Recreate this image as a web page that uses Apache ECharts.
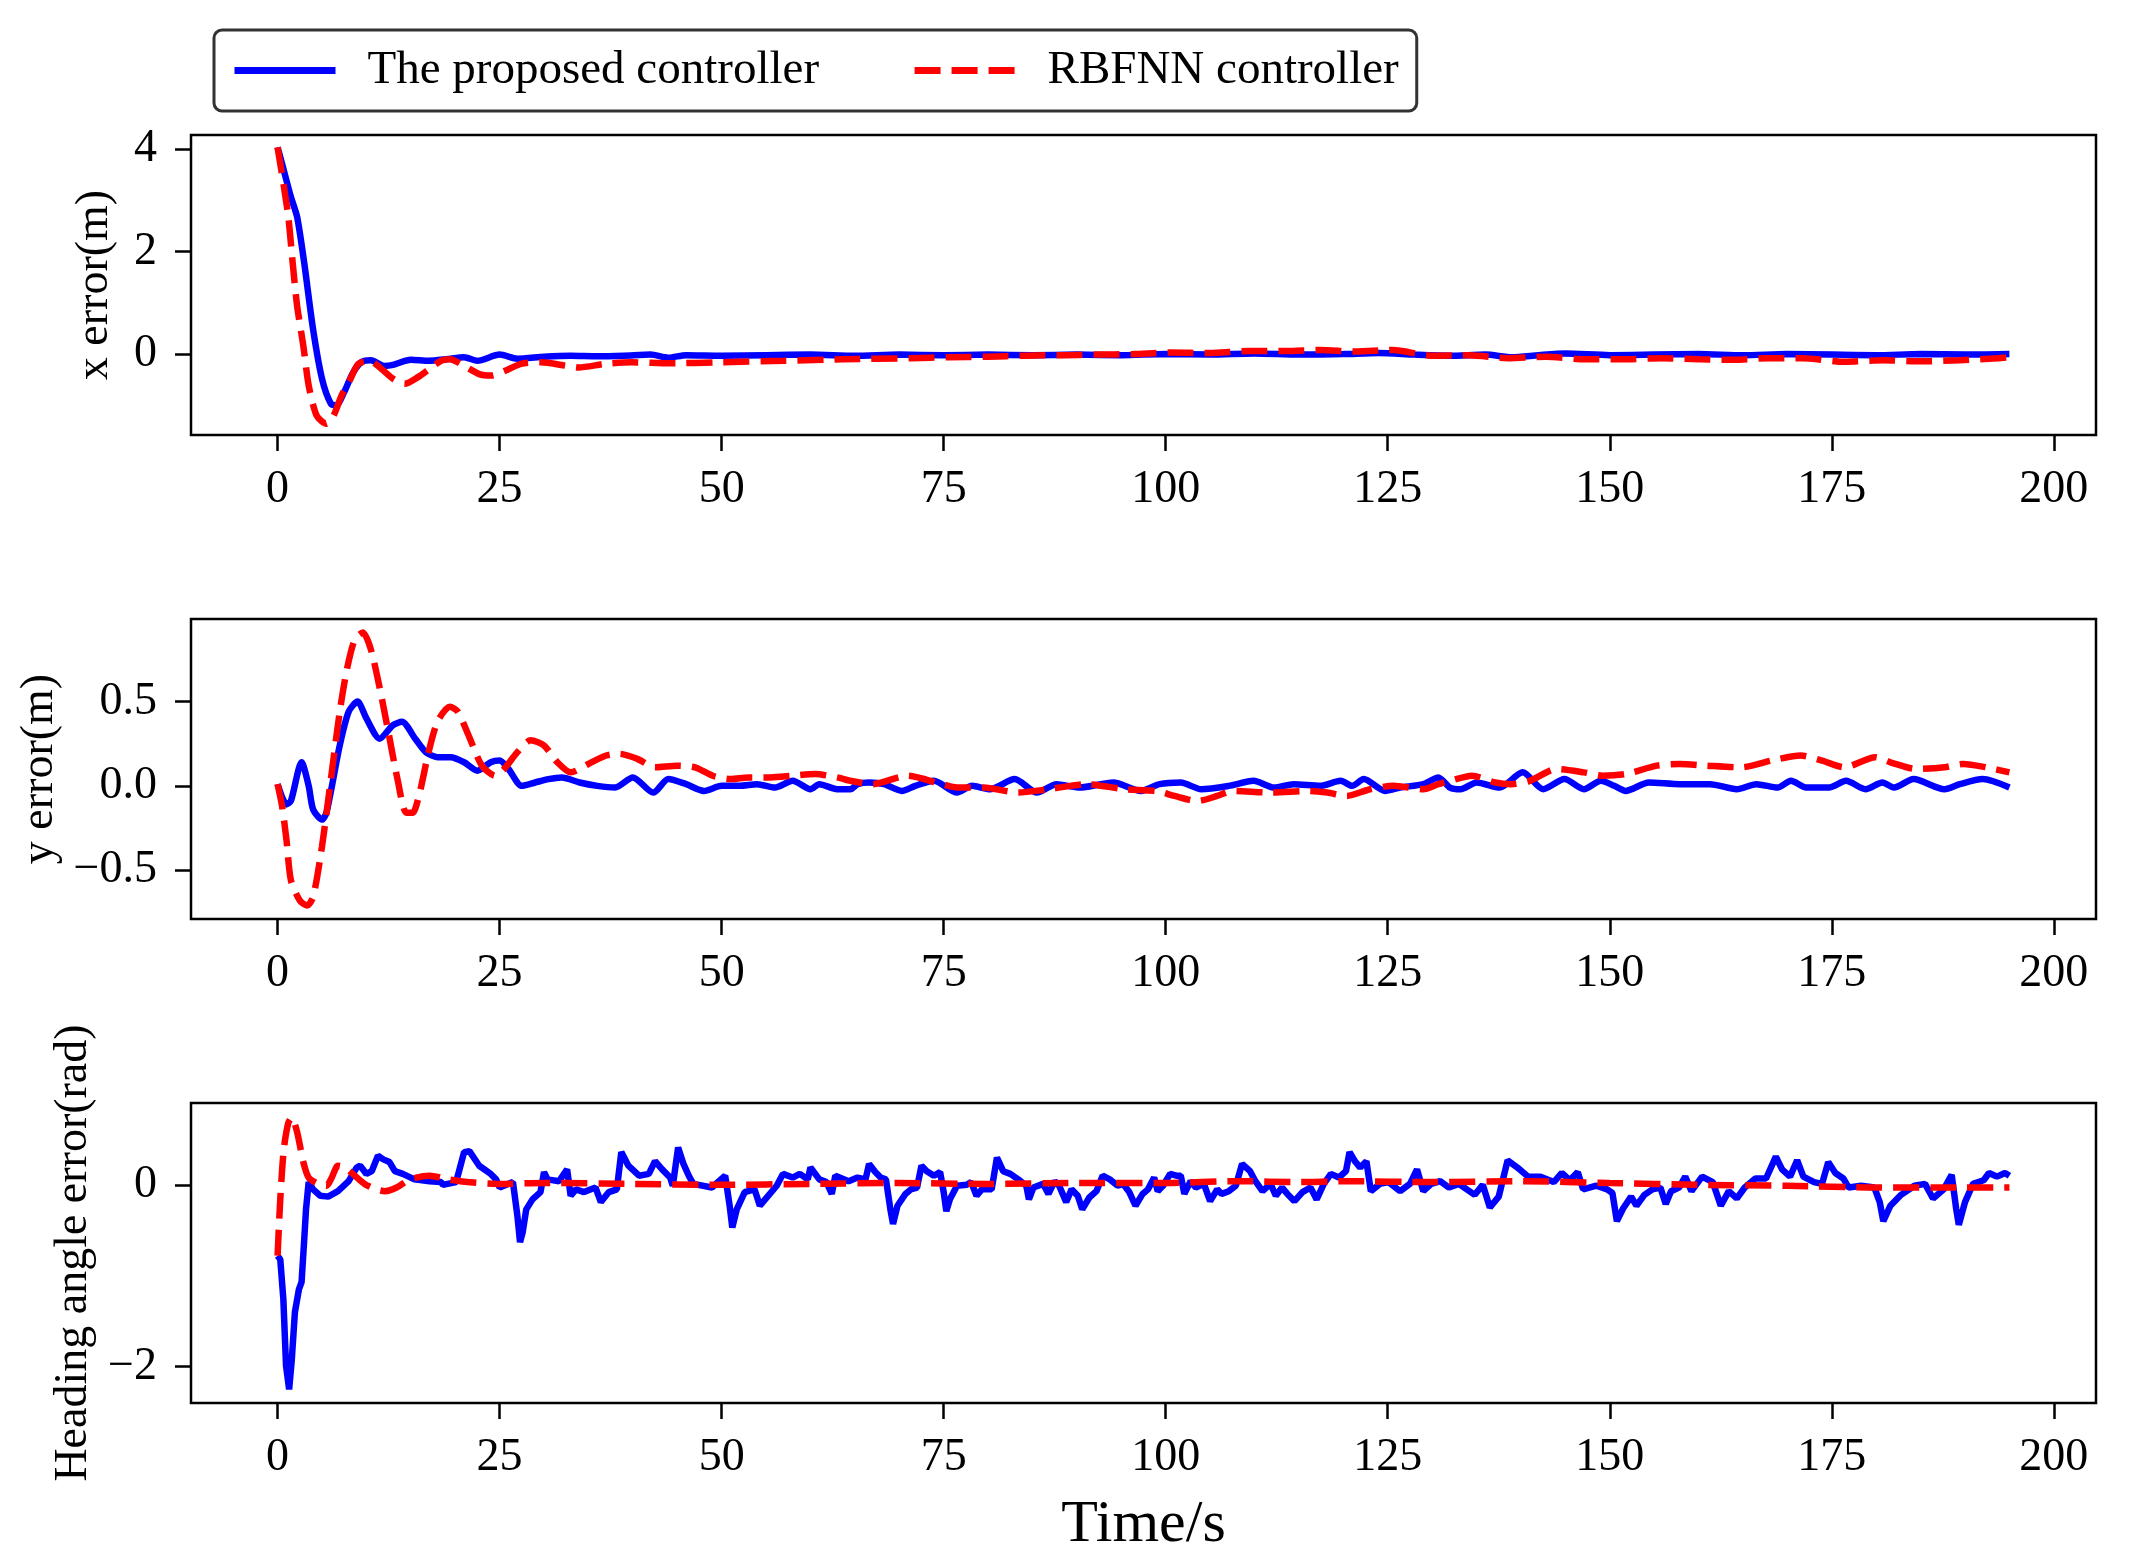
<!DOCTYPE html>
<html>
<head>
<meta charset="utf-8">
<title>tracking errors</title>
<script src="https://cdn.jsdelivr.net/npm/echarts@6/dist/echarts.min.js"></script>
<style>
	html,body{margin:0;padding:0;background:#fff;}
	#main{width:2130px;height:1566px;}
</style>
</head>
<body>
<div id="main"></div>
<script>
'use strict';

// legend names
var seriesNames = ['The proposed controller', 'RBFNN controller'];

// tick labels
var timeTicks = [0, 25, 50, 75, 100, 125, 150, 175, 200];
var xErrTicks = [0, 2, 4];
var yErrTicks = [-0.5, 0, 0.5];
var headTicks = [-2, 0];

// [time s, x error m]
var xErrProposed = [
	[0,4.04],[0.5,3.72],[1.5,3.07],[2.2,2.68],[3,1.78],[4,0.48],[5,-0.48],[6,-0.97],[6.6,-1.0],[7.5,-0.74],
	[8.5,-0.36],[9.5,-0.15],[10.5,-0.12],[12,-0.23],[13,-0.21],[15,-0.11],[17,-0.13],[19,-0.1],[21,-0.06],[22.5,-0.13],
	[25,-0.01],[27,-0.09],[30,-0.05],[33,-0.03],[36,-0.04],[39,-0.03],[42,-0.01],[44,-0.07],[46,-0.02],[50,-0.03],
	[55,-0.02],[60,-0.01],[65,-0.03],[70,-0.01],[75,-0.02],[80,-0.01],[85,-0.02],[90,-0.01],[95,-0.02],[100,0],
	[105,-0.01],[110,0.01],[115,-0.01],[120,0],[124,0.02],[128,-0.01],[132,-0.03],[136,-0.01],[139,-0.06],[142,-0.02],
	[145,0.01],[150,-0.02],[155,-0.01],[160,0],[165,-0.02],[170,0],[175,-0.01],[180,-0.02],[185,0],[190,-0.01],[195,0]
];
var xErrRbf = [
	[0,4.04],[1.16,2.75],[1.7,1.78],[2.2,0.94],[2.9,0.16],[3.5,-0.61],[4.4,-1.2],[5.5,-1.36],[6.3,-1.2],[7.2,-0.81],
	[8.1,-0.52],[9.1,-0.19],[10.4,-0.13],[11.7,-0.29],[13,-0.48],[14.3,-0.58],[15.8,-0.45],[17.1,-0.29],[18.4,-0.13],[19.4,-0.1],
	[21,-0.23],[22.7,-0.39],[24,-0.42],[25.7,-0.32],[27.4,-0.19],[29.6,-0.16],[32.6,-0.23],[33.9,-0.26],[36.9,-0.19],[39.9,-0.16],
	[44.2,-0.18],[49.8,-0.16],[57.1,-0.13],[63.6,-0.1],[71.3,-0.08],[75.6,-0.06],[79.9,-0.05],[84.2,-0.03],[88.5,-0.02],[92,-0.01],
	[96.3,0],[100.6,0.03],[104.9,0.02],[109.2,0.06],[113.5,0.06],[117.4,0.08],[121.3,0.05],[125.6,0.08],[129.9,-0.03],[134.2,-0.02],
	[138.5,-0.08],[142.8,-0.05],[147.2,-0.1],[151.5,-0.1],[155.8,-0.08],[160.1,-0.1],[164,-0.11],[167.8,-0.08],[171.7,-0.08],[176.5,-0.15],
	[180.8,-0.12],[185.1,-0.14],[189.4,-0.12],[193.7,-0.08],[195,-0.06]
];

// [time s, y error m]
var yErrProposed = [
	[0,0.01],[1,-0.11],[1.5,-0.09],[2.7,0.14],[3.5,0],[4,-0.14],[5,-0.2],[5.5,-0.16],[7,0.24],[8,0.44],
	[9,0.5],[10,0.4],[11.5,0.28],[13,0.36],[14,0.38],[15.5,0.28],[16.7,0.2],[18,0.17],[19.5,0.17],[21,0.14],
	[22.5,0.09],[24,0.14],[25,0.15],[26,0.1],[27.5,0],[29,0.02],[30.5,0.04],[32,0.05],[34,0.02],[36,0],
	[38,-0.01],[40,0.05],[42.3,-0.04],[44,0.04],[46,0.01],[48,-0.03],[50,0],[52,0],[54,0.01],[56,-0.01],
	[58,0.03],[60,-0.02],[61,0.01],[63,-0.02],[64.5,-0.02],[65.3,0.01],[66.6,0.02],[68.3,0.01],[70.3,-0.03],[71.8,0],
	[73.9,0.03],[76.5,-0.04],[78.2,0],[80.2,-0.02],[83,0.04],[85.5,-0.04],[87.7,0.01],[90.3,-0.01],[94.1,0.02],[97.2,-0.03],
	[99.3,0.01],[101.7,0.02],[104,-0.02],[107.1,0],[109.9,0.03],[112.2,-0.01],[114.4,0.01],[117.4,0],[119.7,0.03],[121,0],
	[122.3,0.04],[124.7,-0.03],[126.4,-0.01],[129,0.01],[130.7,0.05],[132,-0.01],[133.2,-0.02],[135,0.02],[137.6,-0.01],[140.2,0.08],
	[142.5,-0.02],[144.9,0.04],[147.1,-0.02],[149,0.03],[150.5,0],[151.8,-0.03],[154.4,0.02],[157.9,0.01],[161.3,0.01],[164.3,-0.02],
	[166.5,0.01],[168.9,-0.01],[170.4,0.03],[172.1,-0.01],[174.7,-0.01],[176.6,0.03],[178.8,-0.02],[180.7,0.02],[182,-0.01],[184.2,0.04],
	[187.7,-0.02],[189.4,0.01],[192,0.04],[195,-0.01]
];
var yErrRbf = [
	[0,0.01],[0.5,-0.12],[1,-0.32],[1.5,-0.56],[2.5,-0.68],[3.3,-0.71],[4,-0.66],[5,-0.36],[6,0.04],[7,0.44],
	[7.8,0.69],[8.7,0.87],[9.6,0.91],[10.5,0.81],[11.5,0.58],[12.4,0.34],[13.5,0.04],[14.5,-0.16],[15.2,-0.16],[16,-0.04],
	[17,0.2],[18,0.38],[19.4,0.47],[20.3,0.44],[21.5,0.3],[23,0.12],[24.5,0.06],[25.5,0.1],[27,0.2],[28.5,0.27],
	[30,0.24],[31.5,0.14],[33,0.08],[35,0.13],[37,0.18],[38.5,0.19],[40.5,0.16],[42.5,0.11],[45,0.12],[47,0.11],
	[49,0.06],[51,0.04],[53,0.05],[55.5,0.05],[58,0.06],[60.5,0.07],[63,0.05],[64.5,0.03],[67,0.01],[70.9,0.06],
	[74.8,0.01],[76.5,-0.01],[79.5,-0.01],[83.4,-0.04],[86.8,-0.02],[91.1,0.01],[95.4,-0.02],[98.9,-0.03],[101,-0.06],[103.6,-0.09],
	[105.8,-0.06],[107.5,-0.03],[111.8,-0.04],[116.1,-0.03],[118.2,-0.04],[120.4,-0.06],[123,-0.02],[125.6,0],[129,-0.02],[130.7,0.01],
	[132,0.03],[134.5,0.06],[137.1,0.02],[138.9,0.01],[141,0.03],[144,0.1],[147.1,0.08],[149.2,0.06],[151.8,0.07],[155.3,0.12],
	[157.9,0.13],[160.9,0.12],[164.8,0.11],[168.2,0.15],[171.5,0.18],[173.9,0.15],[176.4,0.11],[179.9,0.17],[181.6,0.14],[184.6,0.1],
	[187.7,0.11],[189.8,0.13],[192.4,0.11],[195,0.08]
];

// [time s, heading angle error rad]
var headProposed = [
	[0,-0.78],[0.3,-0.82],[0.65,-1.26],[0.95,-1.99],[1.3,-2.25],[1.6,-1.92],[1.95,-1.4],[2.4,-1.15],[2.7,-1.07],[3,-0.6],
	[3.2,-0.27],[3.5,0.03],[4,-0.05],[4.8,-0.12],[5.7,-0.13],[6.8,-0.07],[8,0.04],[8.9,0.19],[9.3,0.21],[10,0.12],
	[10.6,0.15],[11.3,0.32],[11.9,0.28],[12.6,0.25],[13.2,0.15],[14.1,0.12],[15.4,0.06],[17.1,0.04],[18.4,0.03],[18.6,0],
	[20.1,0.03],[21,0.36],[21.6,0.37],[22.7,0.21],[24,0.12],[24.6,0.06],[25,-0.03],[26.5,0.03],[27,-0.34],[27.3,-0.63],
	[27.6,-0.52],[28,-0.27],[28.7,-0.16],[29.6,-0.08],[30,0.14],[30.4,0.06],[31.7,0.04],[32.6,0.17],[33,-0.12],[33.6,-0.05],
	[34.5,-0.08],[35.8,-0.03],[36.4,-0.19],[37.3,-0.08],[38.2,-0.05],[38.7,0.36],[39.5,0.21],[40.7,0.1],[41.8,0.12],[42.5,0.26],
	[43.3,0.17],[44.2,0.08],[44.5,-0.01],[45.1,0.41],[45.7,0.23],[46.3,0.1],[46.8,0.01],[48.9,-0.03],[50.4,0.1],[50.9,-0.23],
	[51.2,-0.47],[51.7,-0.27],[52.6,-0.08],[53.7,-0.05],[54.3,-0.23],[54.9,-0.16],[56.2,-0.01],[56.9,0.12],[58,0.08],[58.8,0.12],
	[59.7,0.06],[60,0.19],[61,0.06],[61.8,0.03],[62.4,-0.1],[62.8,0.1],[64.3,0.04],[65.3,0.08],[66.2,0.06],[66.6,0.23],
	[67.3,0.14],[67.9,0.08],[68.5,0.06],[69,-0.27],[69.3,-0.43],[69.8,-0.23],[70.7,-0.1],[71.3,-0.05],[72,-0.03],[72.5,0.21],
	[73.1,0.15],[73.9,0.1],[74.6,0.14],[75,-0.08],[75.3,-0.29],[75.7,-0.16],[76.5,-0.01],[77.6,0],[78.1,0.03],[78.7,-0.12],
	[79.3,-0.05],[80.4,-0.05],[81,0.3],[81.7,0.15],[82.5,0.12],[83.4,0.06],[84.3,-0.01],[84.6,-0.16],[85.1,-0.03],[86.2,0.01],
	[86.8,-0.1],[87.5,0.04],[88,-0.01],[88.8,-0.19],[89.4,-0.05],[90.1,-0.12],[90.6,-0.27],[91.4,-0.14],[92.2,-0.07],[92.9,0.1],
	[93.7,0.06],[94.6,-0.01],[95.2,0.01],[95.9,-0.08],[96.6,-0.23],[97.4,-0.1],[98,-0.05],[98.7,0.08],[99.1,-0.07],[99.7,-0.01],
	[100.5,0.12],[101.2,0.1],[101.7,0.1],[102.1,-0.1],[102.8,0.04],[103.4,-0.03],[104.3,0.01],[105,-0.18],[105.8,-0.05],[106.3,-0.1],
	[107.1,-0.07],[107.9,-0.01],[108.6,0.23],[109.5,0.15],[110.1,0.04],[110.9,-0.07],[111.8,0.01],[112.4,-0.12],[113.1,-0.03],[113.7,-0.1],
	[114.5,-0.18],[115.4,-0.08],[116.3,-0.03],[117,-0.16],[117.8,0.01],[118.6,0.12],[119.5,0.08],[120.3,0.15],[120.7,0.36],[121.3,0.26],
	[121.9,0.19],[122.6,0.26],[123.1,-0.07],[124.1,0.01],[125.1,0.03],[126.4,-0.07],[127.5,0.01],[128.3,0.17],[129,-0.07],[129.9,0.01],
	[130.9,0.04],[131.9,-0.03],[133,0.01],[134.8,-0.11],[135.7,0],[136.5,-0.25],[137.5,-0.13],[138.5,0.27],[139.6,0.19],[140.8,0.09],
	[142.2,0.09],[143.7,0.03],[144.6,0.13],[145.5,0.05],[146.4,0.14],[147,-0.05],[148.5,-0.01],[149.7,-0.05],[150.3,-0.09],[150.8,-0.4],
	[151.5,-0.26],[152.4,-0.13],[153,-0.23],[153.9,-0.11],[154.8,-0.05],[155.7,-0.03],[156.3,-0.21],[156.9,-0.07],[157.8,-0.03],[158.5,0.09],
	[159.2,-0.07],[160.4,0.09],[161.6,0.03],[162.5,-0.23],[163.4,-0.07],[164.3,-0.15],[165.2,-0.03],[166.4,0.07],[167.6,0.07],[168.7,0.31],
	[169.4,0.17],[170.3,0.09],[171.1,0.27],[171.8,0.09],[173,0.03],[173.9,0.01],[174.6,0.25],[175.4,0.13],[176.3,0.07],[176.9,-0.03],
	[178.3,-0.01],[179.8,-0.03],[180.4,-0.19],[180.8,-0.4],[181.6,-0.23],[182.8,-0.11],[184.3,-0.01],[185.5,0.01],[186.4,-0.15],[187.6,-0.05],
	[188.5,0.11],[189,-0.26],[189.3,-0.44],[190,-0.19],[190.9,0.01],[192.1,0.05],[192.7,0.13],[193.6,0.09],[194.5,0.13],[195,0.1]
];
var headRbf = [
	[0,-0.78],[0.3,-0.16],[0.7,0.39],[1.2,0.68],[1.6,0.74],[2.2,0.58],[2.9,0.25],[3.5,0.08],[4.6,0.01],[5.5,-0.01],
	[6.1,0.08],[6.8,0.21],[7.6,0.19],[8.7,0.1],[9.8,0.01],[11.1,-0.05],[12.1,-0.07],[13.4,-0.03],[14.9,0.06],[17.1,0.1],
	[19.2,0.06],[21.4,0.03],[24.8,0.01],[30,0.02],[40,0.01],[50,0],[60,0.01],[70,0.02],[80,0.01],[90,0.02],
	[100,0.02],[108,0.04],[115,0.03],[120,0.04],[130,0.03],[140,0.04],[150,0.02],[160,0],[170,-0.01],[180,-0.03],
	[190,-0.03],[195,-0.03]
];

var FONT = 'Liberation Serif, Times New Roman, serif';
var BLUE = '#0000ff';
var RED = '#ff0000';
var LINE_W = 6.5;
var DASH = [26, 11];

var fmtMinus = function(digits){
	return function(v){
		var s = digits ? v.toFixed(digits) : String(v);
		return s.replace('-', '\u2212');
	};
};

var panelTops = [135, 619, 1103];
var yRanges = [[-1.58, 4.28], [-0.79, 0.99], [-2.4, 0.9]];
var yTicks = [xErrTicks, yErrTicks, headTicks];
var yNames = ['x error(m)', 'y error(m)', 'Heading angle error(rad)'];
var yNameGaps = [73, 120, 85];
var yDigits = [0, 1, 0];

var grids = [], xAxes = [], yAxes = [];
for(var i=0;i<3;i++){
	grids.push({
		left: 191, right: 34, top: panelTops[i], height: 300,
		show: true, borderColor: '#000', borderWidth: 2.5,
		outerBoundsMode: 'none'
	});
	xAxes.push({
		type: 'value', gridIndex: i, min: -9.75, max: 204.75,
		axisLine: {show: false, onZero: false},
		axisTick: {show: true, inside: false, length: 16, customValues: timeTicks, lineStyle: {color: '#000', width: 2.5}},
		axisLabel: {customValues: timeTicks, margin: 32, color: '#000', fontSize: 46, fontFamily: FONT},
		splitLine: {show: false},
		name: i == 2 ? 'Time/s' : '',
		nameLocation: 'middle',
		nameGap: 92,
		nameTextStyle: {fontSize: 60, fontFamily: FONT, color: '#000'}
	});
	yAxes.push({
		type: 'value', gridIndex: i, min: yRanges[i][0], max: yRanges[i][1],
		axisLine: {show: false, onZero: false},
		axisTick: {show: true, inside: false, length: 16, customValues: yTicks[i], lineStyle: {color: '#000', width: 2.5}},
		axisLabel: {customValues: yTicks[i], margin: 34, color: '#000', fontSize: 46, fontFamily: FONT, formatter: fmtMinus(yDigits[i])},
		splitLine: {show: false},
		name: yNames[i],
		nameLocation: 'middle',
		nameGap: yNameGaps[i],
		nameTextStyle: {fontSize: 46, fontFamily: FONT, color: '#000'}
	});
}

var makeLine = function(name, data, idx, dashed){
	return {
		name: name, type: 'line', xAxisIndex: idx, yAxisIndex: idx,
		data: data, symbol: 'none', showSymbol: false,
		smooth: (idx == 2 && !dashed) ? false : 0.25,
		color: dashed ? RED : BLUE,
		lineStyle: {width: LINE_W, color: dashed ? RED : BLUE, type: dashed ? DASH : 'solid'},
		z: dashed ? 3 : 2
	};
};

var option = {
	backgroundColor: '#fff',
	animation: false,
	legend: {
		data: seriesNames,
		left: 214, top: 30,
		padding: [17, 18, 17, 17],
		itemWidth: 101, itemHeight: 46, itemGap: 92,
		borderColor: '#333', borderWidth: 3, borderRadius: 8,
		itemStyle: {opacity: 0},
		lineStyle: {width: 7},
		textStyle: {fontSize: 47, fontFamily: FONT, color: '#000', padding: [0, 0, 0, 27]}
	},
	grid: grids,
	xAxis: xAxes,
	yAxis: yAxes,
	series: [
		makeLine(seriesNames[0], xErrProposed, 0, false),
		makeLine(seriesNames[1], xErrRbf, 0, true),
		makeLine(seriesNames[0], yErrProposed, 1, false),
		makeLine(seriesNames[1], yErrRbf, 1, true),
		makeLine(seriesNames[0], headProposed, 2, false),
		makeLine(seriesNames[1], headRbf, 2, true)
	]
};

try{
	var myChart = echarts.init(document.getElementById('main'));
	myChart.setOption(option);
}
catch(e){
	console.log(e);
}
</script>
</body>
</html>
